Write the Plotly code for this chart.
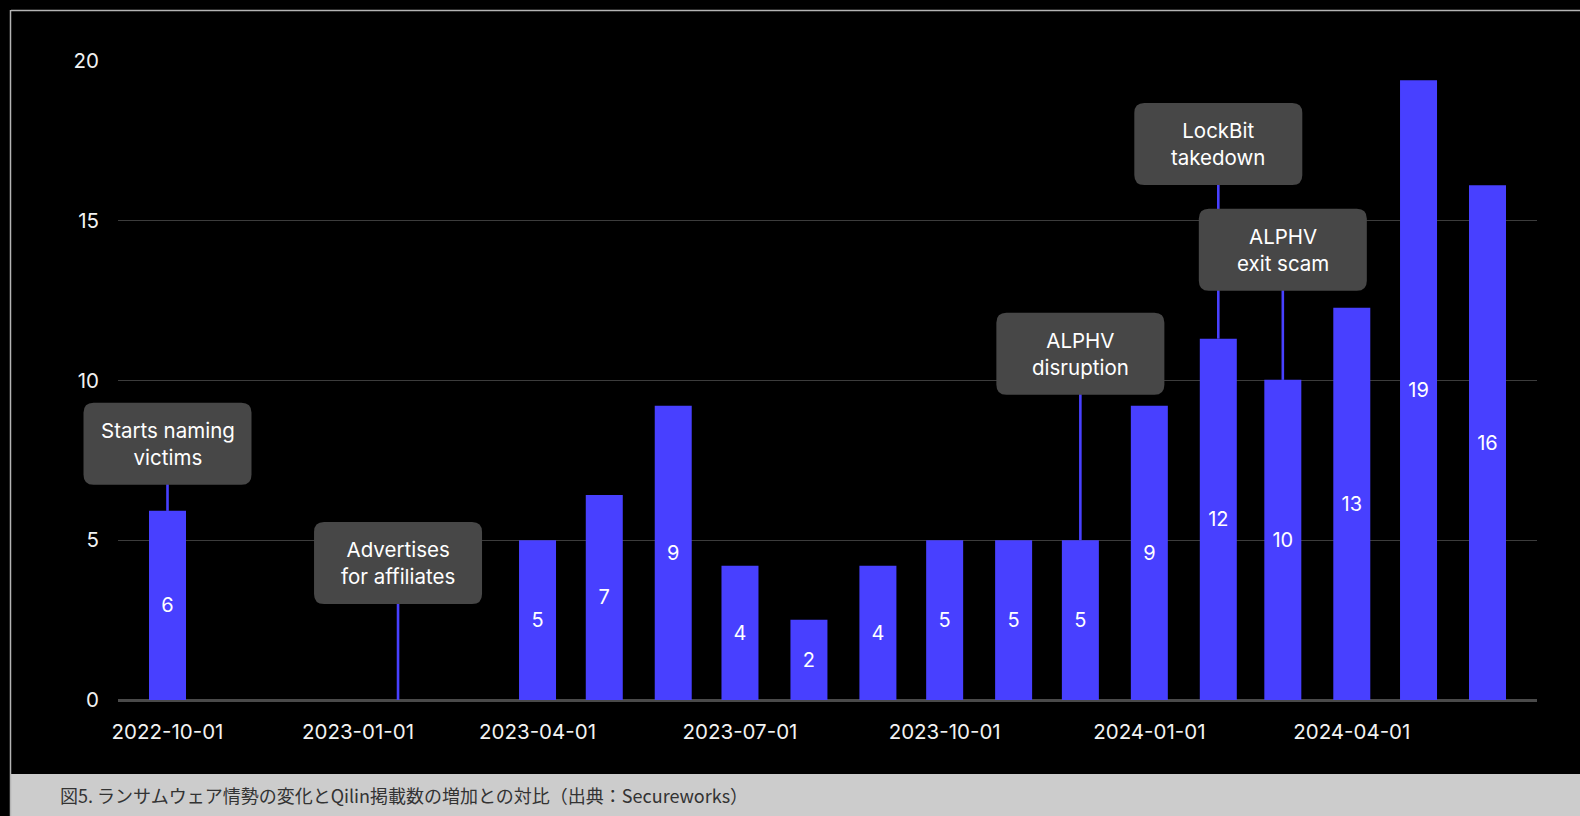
import plotly.graph_objects as go
from datetime import datetime

# ---------------- data ----------------
months = ["2022-10-01", "2023-04-01", "2023-05-01", "2023-06-01", "2023-07-01",
          "2023-08-01", "2023-09-01", "2023-10-01", "2023-11-01", "2023-12-01",
          "2024-01-01", "2024-02-01", "2024-03-01", "2024-04-01", "2024-05-01",
          "2024-06-01"]
postings = [5.92, 5.0, 6.42, 9.21, 4.2, 2.51, 4.2, 5.0, 5.0, 5.0,
            9.21, 11.31, 10.02, 12.28, 19.4, 16.11]
bar_labels = ["6", "5", "7", "9", "4", "2", "4", "5", "5", "5",
              "9", "12", "10", "13", "19", "16"]

event_dates = ["2022-10-01", "2023-01-19", "2023-12-01", "2024-02-01", "2024-03-01"]
event_texts = ["Starts naming<br>victims", "Advertises<br>for affiliates",
               "ALPHV<br>disruption", "LockBit<br>takedown", "ALPHV<br>exit scam"]

x_tick_vals = ["2022-10-01", "2023-01-01", "2023-04-01", "2023-07-01",
               "2023-10-01", "2024-01-01", "2024-04-01"]
x_tick_text = x_tick_vals
y_tick_vals = [0, 5, 10, 15, 20]

caption = "図5. ランサムウェア情勢の変化とQilin掲載数の増加との対比（出典：Secureworks）"

# ---------------- layout / style ----------------
W, H = 1580, 816
ML, MR, MT, MB = 118, 43, 61, 116
PW, PH = W - ML - MR, H - MT - MB
DAY = 86400000
BAR_BLUE = "#4840ff"
BOX_GREY = "#474747"
FONT = "Inter, Roboto, 'DejaVu Sans', sans-serif"
box_levels = [8.02, 4.29, 10.84, 17.40, 14.09]   # y (data units) of each callout box centre

X_RANGE = ["2022-09-08 18:00", "2024-06-23 06:00"]
BREAKS = [("2022-11-12", 6.38), ("2023-02-20", 9.3)]   # (start, length in days)


def _d(s):
    return datetime.fromisoformat(s)


def date_to_paper(s):
    """x-axis date -> paper fraction, following the axis range and its breaks."""
    def eff(t):
        days = (t - _d(X_RANGE[0])).total_seconds() / 86400
        for b, ln in BREAKS:
            bt = _d(b)
            if t > bt:
                days -= min(ln, (t - bt).total_seconds() / 86400)
        return days
    return eff(_d(s)) / eff(_d(X_RANGE[1]))


def px_x(p):
    return (p - ML) / PW


def px_y(p):
    return (H - MB - p) / PH


fig = go.Figure()
fig.add_trace(go.Bar(
    x=months, y=postings, text=bar_labels,
    textposition="inside", insidetextanchor="middle",
    textfont=dict(color="white", size=20, family=FONT),
    marker=dict(color=BAR_BLUE, line=dict(width=0)),
    width=16.63 * DAY,
    hoverinfo="skip",
))

shapes = []
annotations = []

# connector lines (drawn first, boxes cover them)
for d, lvl in zip(event_dates, box_levels):
    base = postings[months.index(d)] if d in months else 0
    shapes.append(dict(type="line", xref="x", yref="y", x0=d, x1=d, y0=base, y1=lvl,
                       line=dict(color=BAR_BLUE, width=2.6), layer="above"))

hw, hh, r = 84, 41, 10
box_path = (f"M {-hw + r},{-hh} L {hw - r},{-hh} Q {hw},{-hh} {hw},{-hh + r} "
            f"L {hw},{hh - r} Q {hw},{hh} {hw - r},{hh} L {-hw + r},{hh} "
            f"Q {-hw},{hh} {-hw},{hh - r} L {-hw},{-hh + r} Q {-hw},{-hh} {-hw + r},{-hh} Z")

for d, txt, lvl in zip(event_dates, event_texts, box_levels):
    shapes.append(dict(type="path", xref="paper", yref="y", xsizemode="pixel", ysizemode="pixel",
                       xanchor=date_to_paper(d), yanchor=lvl, path=box_path,
                       fillcolor=BOX_GREY, line=dict(width=0), layer="above"))
    annotations.append(dict(x=date_to_paper(d), y=lvl, xref="paper", yref="y", text=txt,
                            showarrow=False,
                            font=dict(color="white", size=20.5, family=FONT),
                            xanchor="center", yanchor="middle", align="center"))

# footer band and frame lines
shapes.append(dict(type="rect", xref="paper", yref="paper",
                   x0=px_x(11), x1=px_x(W + 5), y0=px_y(H + 5), y1=px_y(774),
                   fillcolor="#cccccc", line=dict(width=0), layer="above"))
shapes.append(dict(type="line", xref="paper", yref="paper",
                   x0=px_x(11), x1=px_x(W + 5), y0=px_y(10.5), y1=px_y(10.5),
                   line=dict(color="#b4b4b4", width=1.5), layer="above"))
shapes.append(dict(type="line", xref="paper", yref="paper",
                   x0=px_x(10.5), x1=px_x(10.5), y0=px_y(10), y1=px_y(H + 5),
                   line=dict(color="#b4b4b4", width=1.5), layer="above"))

annotations.append(dict(xref="paper", yref="paper", x=px_x(58), y=px_y(795),
                        xanchor="left", yanchor="middle", showarrow=False, text=caption,
                        font=dict(color="#333333", size=18,
                                  family="'Noto Sans CJK JP', 'Noto Sans', sans-serif")))

fig.update_layout(
    width=W, height=H,
    margin=dict(l=ML, r=MR, t=MT, b=MB, pad=0),
    paper_bgcolor="black", plot_bgcolor="black",
    showlegend=False,
    shapes=shapes, annotations=annotations,
    font=dict(family=FONT, color="#f2f2f2"),
    xaxis=dict(
        type="date",
        range=X_RANGE,
        rangebreaks=[dict(values=[b], dvalue=ln * DAY) for b, ln in BREAKS],
        tickmode="array", tickvals=x_tick_vals, ticktext=x_tick_text,
        showgrid=False, zeroline=False, showline=False, ticks="",
        tickfont=dict(size=20.5, color="#f2f2f2", family=FONT),
        ticklabelstandoff=17,
        fixedrange=True,
    ),
    yaxis=dict(
        range=[0, 20],
        tickmode="array", tickvals=y_tick_vals,
        showgrid=True, gridcolor="#3c3c3c", gridwidth=1.3,
        zeroline=True, zerolinecolor="#4a4a4a", zerolinewidth=2.5,
        showline=False, ticks="",
        tickfont=dict(size=20.5, color="#f2f2f2", family=FONT),
        ticklabelstandoff=18,
        fixedrange=True,
    ),
)

fig.write_html("out.html", config={"displayModeBar": False},
               post_script="document.body.style.margin='0';document.body.style.overflow='hidden';")
